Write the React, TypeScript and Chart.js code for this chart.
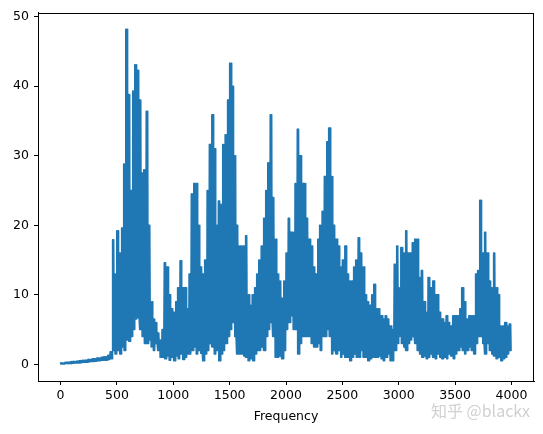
import React, { useEffect, useRef } from 'react';
import { Chart, registerables } from 'chart.js';

Chart.register(...registerables);

// Frequency grid step (Hz) of the envelope samples
const STEP = 20;
// The dense spectrum oscillates between the two envelopes several times per grid cell
const SWINGS_PER_STEP = 3;

// Upper envelope of the spectrum, one value per 20 Hz, 0 .. 3980 Hz
const hiValues = [
  0.2, 0.2, 0.3, 0.3, 0.35, 0.4, 0.4, 0.45, 0.5, 0.55,
  0.6, 0.6, 0.7, 0.7, 0.8, 0.8, 0.9, 0.9, 1.0, 1.1,
  1.1, 1.3, 1.8, 17.9, 13, 19.2, 16, 19.6, 28.8, 48.2,
  38.8, 25, 39.3, 43.1, 42.3, 38, 27.5, 28, 36.4, 20,
  9, 6.5, 6, 4.5, 3.5, 5, 14.6, 14, 10, 8,
  7.5, 9, 11, 14.9, 11, 11, 8, 13, 24.5, 26,
  26, 20, 14, 13, 15, 25, 31.6, 35.9, 31, 20,
  23.5, 23, 31.6, 33, 38, 43.3, 40, 30, 20, 17,
  17, 17, 18.5, 10, 8.5, 10, 11, 13, 15, 17,
  21, 25, 29, 35.9, 24, 18, 13, 12, 9.5, 12,
  16, 21, 19, 19, 26, 33.8, 30, 26, 26, 21,
  18, 17, 14, 13, 18, 20, 22, 27, 32, 34,
  27, 20, 18, 17, 14, 15, 17, 13, 12, 12,
  14, 15, 18.2, 16, 14, 10, 9, 8.5, 10, 11.5,
  8, 8, 7, 6.5, 7, 6.5, 5.5, 5, 14.4, 17,
  11, 16.8, 16, 19.2, 16, 16, 17.5, 18, 18, 12.5,
  13.5, 9, 7.5, 12.5, 11, 12, 10, 10, 7.5, 6.5,
  6, 7, 6, 5.5, 7, 7, 7, 8, 11, 9,
  6.5, 7, 7, 7, 13, 13.5, 23.6, 16, 19, 16,
  12, 11, 16, 11, 10, 5.5, 5.5, 6, 5.5, 5.8,
];

// Lower envelope of the spectrum, one value per 20 Hz
const loValues = [
  0.05, 0.05, 0.1, 0.1, 0.1, 0.15, 0.2, 0.2, 0.2, 0.25,
  0.3, 0.3, 0.35, 0.4, 0.4, 0.45, 0.5, 0.5, 0.6, 0.6,
  0.6, 0.7, 0.8, 2, 1.5, 2, 1.5, 2.5, 2, 3.5,
  3.3, 4, 5, 6.5, 6.7, 5, 4, 3, 3, 3.5,
  2.5, 2, 3, 2, 1, 1, 0.8, 1.2, 0.6, 1,
  0.5, 1.2, 0.8, 1.5, 0.7, 1, 1.5, 1.5, 2, 2.5,
  1.5, 2, 1.6, 0.5, 1.5, 2, 3, 2.5, 1.5, 2,
  0.5, 1.5, 2, 3, 4, 5, 6, 4, 1.5, 1.5,
  1.5, 1.2, 1, 0.5, 0.8, 0.5, 1.5, 2, 2, 2.5,
  2, 4, 5, 6, 4, 1, 1, 1.2, 0.8, 2,
  5, 6, 7, 5, 5, 1.5, 3, 4, 4, 4,
  4, 3, 2.5, 2.5, 3, 2, 4, 4, 5, 4,
  1.5, 2, 1.5, 2, 1, 1.5, 1, 1, 0.5, 1,
  1.5, 1, 1, 2, 1, 1, 0.5, 0.8, 1, 1,
  1, 1.2, 0.8, 0.5, 1, 1.5, 0.5, 0.5, 2, 3,
  4, 3, 2.5, 2, 3, 3.5, 4, 3, 2, 1.5,
  1, 1.2, 0.8, 1, 1.5, 1, 0.8, 1.5, 1, 0.8,
  1, 0.8, 1.5, 1.2, 0.8, 1.5, 2, 2.5, 2, 1.5,
  2, 2.5, 2, 1.5, 3, 4, 4, 3, 1.5, 3,
  2, 1.5, 1.2, 0.8, 1, 0.5, 0.8, 1, 1.5, 2,
];

const xTicks = [0, 500, 1000, 1500, 2000, 2500, 3000, 3500, 4000];
const yTicks = [0, 10, 20, 30, 40, 50];
const xTitle = 'Frequency';
const watermark = '知乎 @blackx';

const FONT = "'DejaVu Sans', sans-serif";

export default function App() {
  const ref = useRef<HTMLCanvasElement | null>(null);

  useEffect(() => {
    const canvas = ref.current;
    if (!canvas) return;

    const points: { x: number; y: number }[] = [];
    const sub = STEP / (SWINGS_PER_STEP * 2);
    for (let i = 0; i < hiValues.length; i++) {
      for (let k = 0; k < SWINGS_PER_STEP; k++) {
        points.push({ x: i * STEP + 2 * k * sub, y: hiValues[i] });
        points.push({ x: i * STEP + (2 * k + 1) * sub, y: loValues[i] });
      }
    }

    const framePlugin = {
      id: 'frame',
      afterDraw(chart: any) {
        const { ctx, chartArea } = chart;
        ctx.save();
        ctx.strokeStyle = '#000';
        ctx.lineWidth = 1;
        ctx.strokeRect(
          Math.round(chartArea.left) + 0.5,
          Math.round(chartArea.top) + 0.5,
          Math.round(chartArea.right - chartArea.left) - 1,
          Math.round(chartArea.bottom - chartArea.top) - 1
        );
        ctx.font = `16px 'Noto Sans CJK SC', ${FONT}`;
        ctx.fillStyle = 'rgba(200,200,200,0.85)';
        ctx.textAlign = 'right';
        ctx.textBaseline = 'middle';
        ctx.fillText(watermark, 530, 411);
        ctx.restore();
      },
    };

    const chart = new Chart(canvas, {
      type: 'line',
      data: {
        datasets: [
          {
            data: points,
            borderColor: '#1f77b4',
            backgroundColor: '#1f77b4',
            borderWidth: 1.5,
            borderJoinStyle: 'round',
            borderCapStyle: 'round',
            pointRadius: 0,
            tension: 0,
            fill: false,
          },
        ],
      },
      options: {
        responsive: false,
        animation: false,
        events: [],
        layout: { padding: { left: 0, right: 9, top: 11, bottom: 0 } },
        plugins: { legend: { display: false }, tooltip: { enabled: false } },
        scales: {
          x: {
            type: 'linear',
            min: -200,
            max: 4200,
            afterBuildTicks: (s: any) => {
              s.ticks = xTicks.map((v) => ({ value: v }));
            },
            afterFit: (s: any) => {
              s.height = 53;
            },
            grid: {
              drawOnChartArea: false,
              drawTicks: true,
              tickLength: 4,
              tickColor: '#000',
              color: '#000',
            },
            border: { display: true, color: '#000', width: 1 },
            ticks: {
              color: '#000',
              font: { family: FONT, size: 12.5 },
              padding: 3,
              maxRotation: 0,
              autoSkip: false,
              callback: (v: any) => String(v),
            },
            title: {
              display: true,
              text: xTitle,
              color: '#000',
              font: { family: FONT, size: 12.5 },
              padding: { top: 0, bottom: 10 },
            },
          },
          y: {
            type: 'linear',
            min: -2.4,
            max: 50.6,
            afterBuildTicks: (s: any) => {
              s.ticks = yTicks.map((v) => ({ value: v }));
            },
            afterFit: (s: any) => {
              s.width = 38;
            },
            grid: {
              drawOnChartArea: false,
              drawTicks: true,
              tickLength: 4,
              tickColor: '#000',
              color: '#000',
            },
            border: { display: true, color: '#000', width: 1 },
            ticks: {
              color: '#000',
              font: { family: FONT, size: 12.5 },
              padding: 5,
              autoSkip: false,
              callback: (v: any) => String(v),
            },
          },
        },
      },
      plugins: [framePlugin],
    });

    return () => chart.destroy();
  }, []);

  return (
    <div style={{ position: 'fixed', left: 0, top: 0, width: 543, height: 434, background: '#fff' }}>
      <canvas ref={ref} width={543} height={434} style={{ width: 543, height: 434, display: 'block' }} />
    </div>
  );
}
